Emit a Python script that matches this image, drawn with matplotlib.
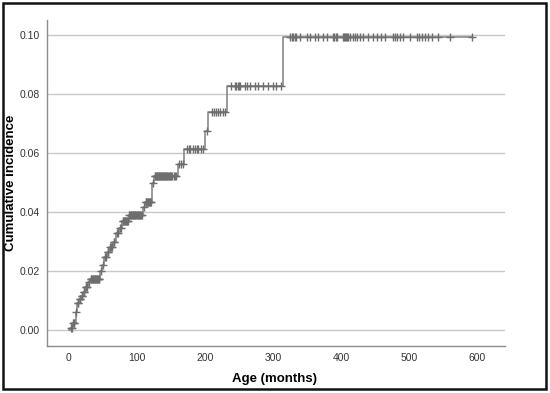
import numpy as np
import matplotlib
matplotlib.use("Agg")
import matplotlib.pyplot as plt
from matplotlib.patches import Rectangle

plt.rcParams['font.family'] = ['Liberation Sans', 'DejaVu Sans']

# event times (months) and cumulative incidence after each event
event_times = [0, 2, 5, 10, 12, 15, 18, 21, 24, 28, 31, 46, 49, 52, 56, 60, 65,
               70, 74, 78, 88, 109, 112, 122, 125, 160, 170, 200, 205, 232, 315]
incidence = [0, 0.0007, 0.0024, 0.0060, 0.0090, 0.0105, 0.0115, 0.0129, 0.0146,
             0.0163, 0.0173, 0.0200, 0.0220, 0.0248, 0.0265, 0.0280, 0.0299,
             0.0328, 0.0346, 0.0370, 0.0390, 0.0417, 0.0433, 0.0498, 0.0522,
             0.0563, 0.0614, 0.0675, 0.0739, 0.0827, 0.0993]
last_followup = 592

# censored observations (months)
censored = [3, 4, 6, 7, 8, 11, 13, 14, 16, 17, 19, 20, 22, 23, 25, 26, 27, 29,
            32, 33, 34, 35, 36, 37, 38, 39, 40, 41, 42, 43, 44, 45,
            47, 50, 53, 54, 57, 58, 61, 62, 63, 66, 67, 71, 72, 75, 76,
            79, 80, 81, 82, 83, 84, 85, 86, 87, 89, 90, 91, 92, 93, 94, 95, 96,
            97, 98, 99, 100, 101, 102, 103, 104, 105, 106, 107, 110,
            113, 114, 115, 116, 117, 118, 119, 120, 121, 123,
            126, 127, 128, 129, 130, 131, 132, 133, 134, 135, 136, 137, 138, 139,
            140, 141, 142, 143, 144, 145, 146, 147, 148, 149, 150, 152, 154, 156, 158,
            162, 165, 168, 173, 176, 178, 182, 185, 188, 190, 194, 197,
            203, 210, 213, 216, 219, 222, 226, 229,
            238, 244, 246, 248, 250, 252, 259, 262, 266, 274, 278, 285, 293, 300, 304,
            312, 325, 328, 330, 332, 334, 340, 350, 354, 362, 366, 374, 379, 388,
            390, 392, 394, 403, 405, 406, 408, 409, 411, 413, 418, 420, 424, 428,
            432, 440, 447, 453, 459, 465, 476, 479, 482, 487, 491, 501, 512, 515,
            519, 524, 528, 534, 543, 560, 592]

xs = np.array(event_times + [last_followup])
ys = np.array(incidence + [incidence[-1]])
cens = np.array(censored)
cens_y = ys[np.searchsorted(xs, cens, side='right') - 1]

fig = plt.figure(figsize=(5.5, 3.93), dpi=100)
ax = fig.add_axes([0.0855, 0.12, 0.8327, 0.829])

ax.plot(xs, ys, drawstyle='steps-post', color='#808080', linewidth=1.1, zorder=3)
ax.plot(cens, cens_y, linestyle='none', marker='+', markersize=6,
        markeredgewidth=1.0, color='#6e6e6e', zorder=4)

ax.set_xlim(-32, 641)
ax.set_ylim(-0.0054, 0.105)
ax.set_xticks([0, 100, 200, 300, 400, 500, 600])
ax.set_yticks([0.0, 0.02, 0.04, 0.06, 0.08, 0.10])
ax.yaxis.set_major_formatter(matplotlib.ticker.FormatStrFormatter('%.2f'))
ax.tick_params(axis='both', length=0, labelsize=7.5, colors='#333333')
ax.tick_params(axis='x', pad=5)
ax.tick_params(axis='y', pad=5)

ax.grid(True, axis='y', color='#c8c8c8', linewidth=1.0)
ax.set_axisbelow(True)
for s in ['top', 'right']:
    ax.spines[s].set_visible(False)
for s in ['left', 'bottom']:
    ax.spines[s].set_color('#8c8c8c')
    ax.spines[s].set_linewidth(1.0)

ax.set_xlabel('Age (months)', fontsize=9.5, fontweight='bold')
ax.set_ylabel('Cumulative incidence', fontsize=9.5, fontweight='bold')
ax.xaxis.set_label_coords(0.497, -0.083)
ax.yaxis.set_label_coords(-0.066, 0.5)

fig.patches.append(Rectangle((0.005, 0.01), 0.988, 0.982, transform=fig.transFigure,
                             fill=False, edgecolor='#111111', linewidth=1.8))

plt.savefig('out.png', dpi=100)
plt.close()
